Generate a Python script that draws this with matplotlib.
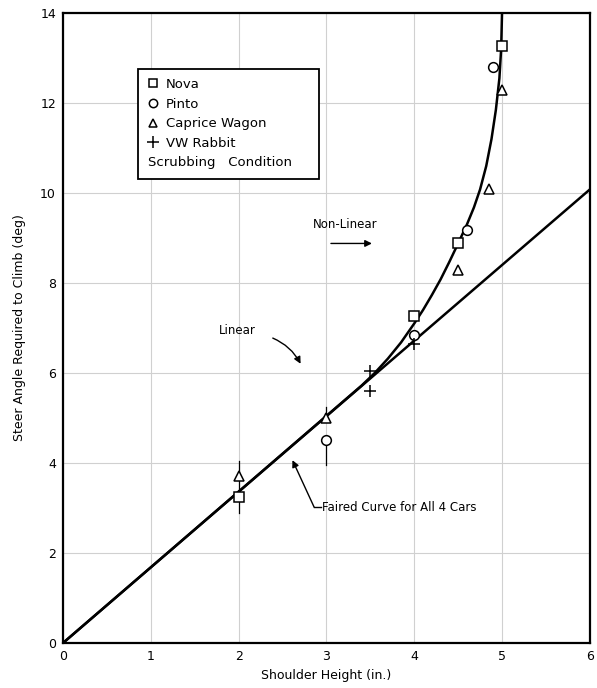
import numpy as np
import matplotlib
matplotlib.use("Agg")
import matplotlib.pyplot as plt
from matplotlib.lines import Line2D

# data
nova_x = [2.0, 4.0, 4.5, 5.0]
nova_y = [3.25, 7.27, 8.9, 13.27]

pinto_x = [3.0, 4.0, 4.6, 4.9]
pinto_y = [4.52, 6.85, 9.17, 12.8]

caprice_x = [2.0, 3.0, 4.5, 4.85, 5.0]
caprice_y = [3.72, 5.0, 8.3, 10.1, 12.3]

rabbit_x = [3.5, 3.5, 4.0]
rabbit_y = [6.05, 5.6, 6.65]

linear_x = [0.0, 6.0]
linear_y = [0.0, 10.08]

faired_x = [0.0, 3.4, 3.55, 3.7, 3.85, 4.0, 4.1, 4.2, 4.3, 4.4, 4.5, 4.6, 4.68, 4.75, 4.82, 4.88, 4.93, 4.97, 4.99, 5.0]
faired_y = [0.0, 5.72, 6.0, 6.32, 6.68, 7.1, 7.4, 7.73, 8.08, 8.47, 8.88, 9.3, 9.68, 10.08, 10.6, 11.2, 11.85, 12.55, 13.2, 14.0]

plt.rcParams['font.family'] = ['DejaVu Sans']

fig = plt.figure(figsize=(5.97, 6.88), dpi=100)
ax = fig.add_axes([0.1055, 0.0654, 0.8825, 0.9156])

ax.set_xlim(0, 6)
ax.set_ylim(0, 14)
ax.set_xticks(range(0, 7))
ax.set_yticks(range(0, 15, 2))
ax.grid(True, color='#d0d0d0', lw=0.8)
ax.tick_params(length=0, labelsize=9, pad=5)
for s in ax.spines.values():
	s.set_linewidth(1.6)

ax.plot(linear_x, linear_y, color='black', lw=1.8)
ax.plot(faired_x, faired_y, color='black', lw=1.8, solid_joinstyle='round')

mk = dict(ls='none', mfc='white', mec='black', mew=1.1, color='black', zorder=5)
ax.plot(nova_x, nova_y, marker='s', ms=7, **mk)
ax.plot(pinto_x, pinto_y, marker='o', ms=7, **mk)
ax.plot(caprice_x, caprice_y, marker='^', ms=7, **mk)
ax.plot(rabbit_x, rabbit_y, marker='+', ms=9, **mk)

# scatter bars
ax.plot([2, 2], [2.9, 4.05], color='black', lw=0.9, zorder=4)
ax.plot([3, 3], [3.95, 4.4], color='black', lw=0.9, zorder=4)
ax.plot([3, 3], [5.0, 5.25], color='black', lw=0.9, zorder=4)

# annotations
ax.text(3.21, 9.3, 'Non-Linear', ha='center', va='center', fontsize=8.5)
ax.annotate('', xy=(3.55, 8.88), xytext=(3.02, 8.88),
	arrowprops=dict(arrowstyle='-|>', color='black', lw=1.0, mutation_scale=10))
ax.text(1.99, 6.95, 'Linear', ha='center', va='center', fontsize=8.5)
ax.annotate('', xy=(2.72, 6.15), xytext=(2.36, 6.8),
	arrowprops=dict(arrowstyle='-|>', color='black', lw=1.0, mutation_scale=10,
		connectionstyle='arc3,rad=-0.2'))
ax.text(2.95, 3.02, 'Faired Curve for All 4 Cars', ha='left', va='center', fontsize=8.5)
ax.plot([2.86, 2.94], [3.02, 3.02], color='black', lw=1.0)
ax.annotate('', xy=(2.6, 4.12), xytext=(2.86, 3.02),
	arrowprops=dict(arrowstyle='-|>', color='black', lw=1.0, mutation_scale=10,
		shrinkA=0))

handles = [
	Line2D([], [], marker='s', ms=6, **mk),
	Line2D([], [], marker='o', ms=6, **mk),
	Line2D([], [], marker='^', ms=6, **mk),
	Line2D([], [], marker='+', ms=8, **mk),
	Line2D([], [], ls='none'),
]
labels = ['Nova', 'Pinto', 'Caprice Wagon', 'VW Rabbit', 'Scrubbing   Condition']
leg = ax.legend(handles, labels, loc='upper left', bbox_to_anchor=(0.13, 0.922),
	fontsize=9.5, handlelength=0.8, handletextpad=0.6, labelspacing=0.5,
	borderpad=0.7, fancybox=False, framealpha=1, edgecolor='black')
leg.get_frame().set_linewidth(1.3)
leg.texts[-1].set_alpha(0)

ax.set_xlabel('Shoulder Height (in.)', fontsize=9, labelpad=4)
ax.set_ylabel('Steer Angle Required to Climb (deg)', fontsize=9, labelpad=10)

# last legend row: text starting under the marker column
fig.canvas.draw()
fb = leg.get_frame().get_window_extent()
tb = leg.texts[-1].get_window_extent()
inv = ax.transAxes.inverted()
x0, _ = inv.transform((fb.x0 + 10, 0))
_, y0 = inv.transform((0, (tb.y0 + tb.y1) / 2))
ax.text(x0, y0, 'Scrubbing   Condition', transform=ax.transAxes, ha='left',
	va='center', fontsize=9.5, zorder=10)

fig.savefig('out.png', dpi=100)
